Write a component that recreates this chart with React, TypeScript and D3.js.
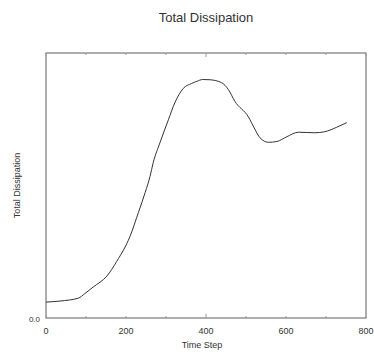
import React from 'react';
import * as d3 from 'd3';

const width = 374;
const height = 354;
const margin = { top: 53, right: 8, bottom: 36, left: 46 };

// time step and total dissipation
const timeSteps = [0, 35, 81, 97, 118, 152, 177, 210, 231, 248, 260, 268, 285, 306, 322, 343, 364, 377, 392, 410, 439, 456, 472, 506, 522, 535, 556, 577, 602, 631, 652, 672, 697, 727, 752];
const dissipation = [0.06, 0.064, 0.075, 0.092, 0.117, 0.158, 0.214, 0.308, 0.398, 0.474, 0.534, 0.586, 0.662, 0.748, 0.812, 0.866, 0.885, 0.893, 0.9, 0.899, 0.888, 0.862, 0.818, 0.759, 0.713, 0.68, 0.663, 0.666, 0.684, 0.701, 0.7, 0.699, 0.703, 0.72, 0.737];
const xTickLabels = [0, 200, 400, 600, 800];
const xMinorTicks = [100, 300, 500, 700];

const font = '"Liberation Sans", Arial, sans-serif';

export default function App() {
  const xScale = d3
    .scaleLinear()
    .domain([0, 800])
    .range([margin.left, width - margin.right]);
  const yScale = d3
    .scaleLinear()
    .domain([0, 1])
    .range([height - margin.bottom, margin.top]);

  const points = timeSteps.map((t, i) => [t, dissipation[i]] as [number, number]);
  const line = d3
    .line<[number, number]>()
    .x(d => xScale(d[0]))
    .y(d => yScale(d[1]))
    .curve(d3.curveMonotoneX);

  const x0 = xScale(0);
  const x1 = xScale(800);
  const y0 = yScale(0);
  const y1 = yScale(1);

  return (
    <svg width={width} height={height} style={{ position: 'absolute', left: 0, top: 0 }} fontFamily={font}>
      <text x={206} y={22} textAnchor="middle" fontSize={13} fill="#333">Total Dissipation</text>

      <rect x={x0} y={y1} width={x1 - x0} height={y0 - y1} fill="none" stroke="#777" strokeWidth={1.2} />

      {xTickLabels.concat(xMinorTicks).map(t => (
        <g key={t}>
          <line x1={xScale(t)} x2={xScale(t)} y1={y0} y2={y0 - (t === 400 ? 4 : 2)} stroke="#999" />
          <line x1={xScale(t)} x2={xScale(t)} y1={y1} y2={y1 + (t === 400 ? 4 : 2)} stroke="#999" />
        </g>
      ))}

      {xTickLabels.map(t => (
        <text key={t} x={xScale(t)} y={334} textAnchor="middle" fontSize={9} fill="#333">{t}</text>
      ))}
      <text x={40} y={322} textAnchor="end" fontSize={8} fill="#333">0.0</text>

      <text x={202} y={348} textAnchor="middle" fontSize={9} fill="#333">Time Step</text>
      <text transform={`translate(20,${(y0 + y1) / 2}) rotate(-90)`} textAnchor="middle" fontSize={9} fill="#333">Total Dissipation</text>

      <path d={line(points) ?? ''} fill="none" stroke="#333" strokeWidth={1} />
    </svg>
  );
}
